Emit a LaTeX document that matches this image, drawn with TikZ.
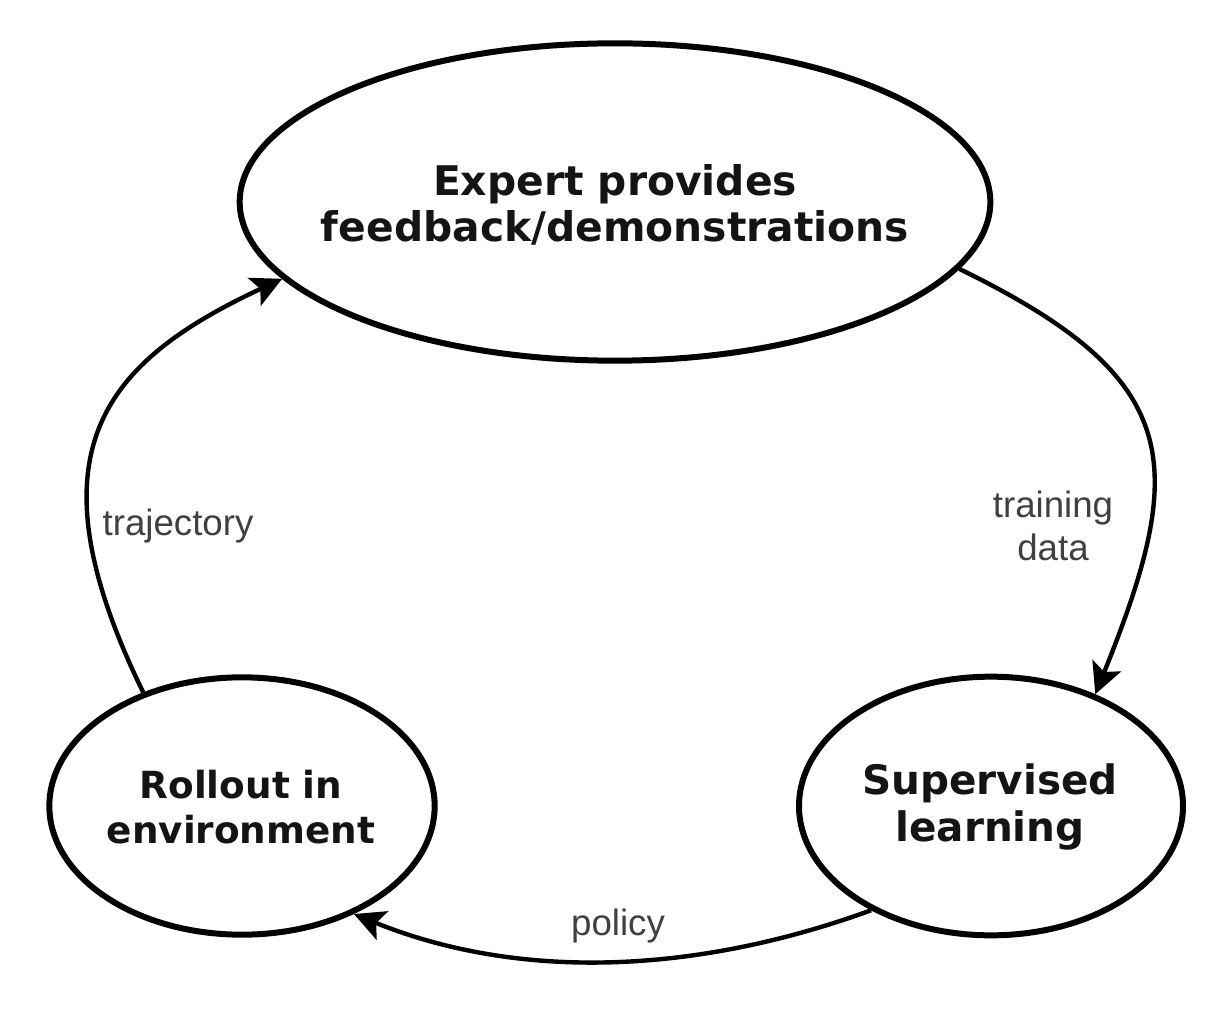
\documentclass[tikz,border=0pt]{standalone}
\usepackage{fontspec}
\setmainfont{DejaVu Sans}
\newfontfamily\labelfont{Liberation Sans}
\usetikzlibrary{shapes.geometric,arrows.meta}
\begin{document}
\begin{tikzpicture}[x=0.75pt,y=0.75pt,
  state/.style={draw=black, line width=4.5pt, ellipse, inner sep=0pt},
  statetext/.style={align=center, text=black!92, inner sep=0pt},
  flow/.style={draw=black, line width=3.3pt, -{Stealth[length=23pt,width=23pt,inset=5pt]}},
  flowlabel/.style={align=center, text=black!75, inner sep=0pt, font=\labelfont\fontsize{27.5}{32}\selectfont}]
\useasboundingbox (0,0) rectangle (1226,1008);
\fill[white] (0,0) rectangle (1226,1008);

\node[state, minimum width=563pt, minimum height=238pt] (top) at (615,806) {};
\node[state, minimum width=289pt, minimum height=193pt] (roll) at (242,202) {};
\node[state, minimum width=288pt, minimum height=194pt] (sup) at (991,202) {};

\node[statetext, font=\bfseries\fontsize{30.6}{35}\selectfont] (toptext) at (615,803) {Expert provides\\feedback/demonstrations};
\node[statetext, font=\bfseries\fontsize{28}{34}\selectfont] (rolltext) at (241,201) {Rollout in\\environment};
\node[statetext, font=\bfseries\fontsize{30.4}{35}\selectfont] (suptext) at (990,201) {Supervised\\learning};

\draw[flow] (top.-11) .. controls +(-26:250) and +(68:250) .. (sup.47);
\draw[flow] (sup.221) to[out=200, in=-22, looseness=0.9] (roll.-44);
\draw[flow] (roll.131) .. controls +(116:265) and +(205:200) .. (top.193.5);

\node[flowlabel] (lbltrain) at (1053,482) {training\\data};
\node[flowlabel] (lblpolicy) at (618,82) {policy};
\node[flowlabel] (lbltraj) at (178,482) {trajectory};
\end{tikzpicture}
\end{document}
